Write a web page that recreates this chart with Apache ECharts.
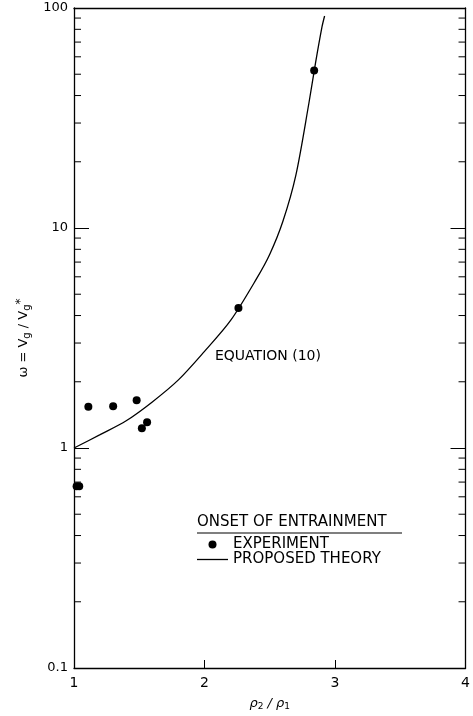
<!DOCTYPE html>
<html>
<head>
<meta charset="utf-8">
<script src="https://cdn.jsdelivr.net/npm/echarts@6/dist/echarts.min.js"></script>
<style>
  html, body { margin: 0; background: #fff; }
  #chart { width: 473px; height: 716px; }
</style>
</head>
<body>
<div id="chart"></div>
<script>
  // experiment points (rho2/rho1, omega)
  const expX = [1.02, 1.04, 1.11, 1.30, 1.48, 1.52, 1.56, 2.26, 2.84];
  const expY = [0.67, 0.67, 1.54, 1.55, 1.65, 1.23, 1.31, 4.33, 52];

  // proposed theory, equation (10)
  const theoryX = [1.0, 1.2, 1.4, 1.6, 1.8, 2.0, 2.2, 2.4, 2.5, 2.6, 2.7, 2.8, 2.85, 2.9, 2.92];
  const theoryY = [1.0, 1.15, 1.33, 1.62, 2.04, 2.75, 3.8, 5.9, 7.6, 10.7, 17.4, 37, 56, 82, 92];

  const xTicks = [1, 2, 3, 4];
  const yTickLabels = { 0.1: '0.1', 1: '1', 10: '10', 100: '100' };
  // log minor ticks between decades
  const minorTickValues = [
    0.2, 0.3, 0.4, 0.5, 0.6, 0.7, 0.8, 0.9,
    2, 3, 4, 5, 6, 7, 8, 9,
    20, 30, 40, 50, 60, 70, 80, 90
  ];

  const font = '"DejaVu Sans", sans-serif';
  const ink = '#000';

  const chart = echarts.init(document.getElementById('chart'));

  const option = {
    animation: false,
    backgroundColor: '#fff',
    grid: { left: 74, right: 1, top: 8, bottom: 48 },
    xAxis: [{
      type: 'value', min: 1, max: 4, interval: 1,
      axisLine: { lineStyle: { color: ink, width: 1.3 } },
      axisTick: { inside: true, length: 8, lineStyle: { color: ink } },
      axisLabel: { color: ink, fontFamily: font, fontSize: 14, margin: 8,
        formatter: v => (xTicks.includes(v) ? String(v) : '') },
      splitLine: { show: false },
      name: '{i|ρ}{s|2}{i| / ρ}{s|1}',
      nameLocation: 'middle', nameGap: 28,
      nameTextStyle: {
        rich: {
          i: { fontFamily: font, fontStyle: 'italic', fontSize: 13, color: ink },
          s: { fontFamily: font, fontSize: 9, color: ink, verticalAlign: 'bottom', padding: [6, 0, 0, 0] }
        }
      }
    }, {
      type: 'value', min: 1, max: 4, position: 'top',
      axisLine: { show: true, onZero: false, lineStyle: { color: ink, width: 1.3 } },
      axisTick: { show: false }, axisLabel: { show: false }, splitLine: { show: false }
    }],
    yAxis: [{
      type: 'log', logBase: 10, min: 0.1, max: 100,
      axisLine: { show: true, lineStyle: { color: ink, width: 1.3 } },
      axisTick: { inside: true, length: 15, lineStyle: { color: ink } },
      axisLabel: { color: ink, fontFamily: font, fontSize: 13, margin: 6,
        formatter: v => yTickLabels[v] || '' },
      splitLine: { show: false },
      name: 'ω = V{s|g} / V{s|g}{u|*}',
      nameLocation: 'middle', nameGap: 38, nameRotate: 90,
      nameTextStyle: {
        fontFamily: font, fontSize: 13, color: ink,
        rich: {
          s: { fontFamily: font, fontSize: 10, color: ink, verticalAlign: 'bottom', padding: [5, 0, 0, 0] },
          u: { fontFamily: font, fontSize: 12, color: ink, verticalAlign: 'top', padding: [0, 0, 5, 0] }
        }
      }
    }, {
      type: 'log', logBase: 10, min: 0.1, max: 100, position: 'right',
      axisLine: { show: true, onZero: false, lineStyle: { color: ink, width: 1.3 } },
      axisTick: { inside: true, length: 15, lineStyle: { color: ink } },
      axisLabel: { show: false }, splitLine: { show: false }
    }],
    legend: {
      orient: 'vertical', left: 197, top: 537, padding: 0,
      itemWidth: 31, itemHeight: 8, itemGap: 0,
      selectedMode: false,
      textStyle: { fontFamily: font, fontSize: 15, color: ink },
      data: [
        { name: 'EXPERIMENT', icon: 'circle' },
        { name: 'PROPOSED THEORY', icon: 'path://M0,0H31V1.3H0Z' }
      ]
    },
    graphic: [
      { type: 'text', left: 197, top: 515,
        style: { text: 'ONSET OF ENTRAINMENT', font: '15px ' + font, fill: ink } },
      { type: 'line', shape: { x1: 197, y1: 533, x2: 402, y2: 533 },
        style: { stroke: ink, lineWidth: 1.2 } },
      { type: 'text', left: 215, top: 349,
        style: { text: 'EQUATION (10)', font: '14px ' + font, fill: ink } }
    ],
    series: [
      {
        name: 'PROPOSED THEORY', type: 'line',
        data: theoryX.map((x, i) => [x, theoryY[i]]),
        smooth: 0.3, symbol: 'none',
        lineStyle: { color: ink, width: 1.3 },
        itemStyle: { color: ink },
        z: 3
      },
      {
        name: 'EXPERIMENT', type: 'scatter',
        data: expX.map((x, i) => [x, expY[i]]),
        symbol: 'circle', symbolSize: 8,
        itemStyle: { color: ink, opacity: 1 },
        z: 4
      },
      {
        // log-spaced minor ticks on both vertical axes
        type: 'custom', silent: true,
        data: minorTickValues.map(v => [1, v]),
        renderItem: (params, api) => {
          const v = api.value(1);
          const l = api.coord([1, v]);
          const r = api.coord([4, v]);
          return {
            type: 'group',
            children: [
              { type: 'line', shape: { x1: l[0], y1: l[1], x2: l[0] + 7, y2: l[1] },
                style: { stroke: ink, lineWidth: 1 } },
              { type: 'line', shape: { x1: r[0] - 7, y1: r[1], x2: r[0], y2: r[1] },
                style: { stroke: ink, lineWidth: 1 } }
            ]
          };
        },
        z: 2
      }
    ]
  };

  chart.setOption(option);
</script>
</body>
</html>
